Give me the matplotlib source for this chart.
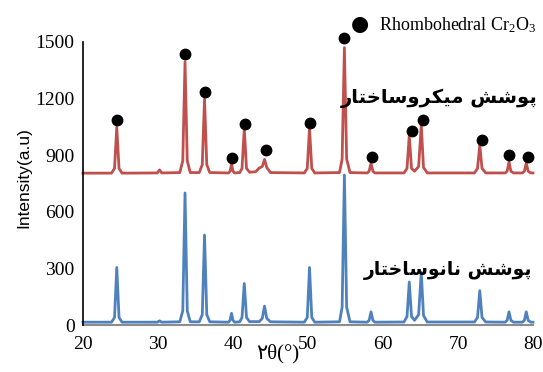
import matplotlib
matplotlib.use("Agg")
import matplotlib.pyplot as plt

plt.rcParams["font.family"] = ["Liberation Serif", "DejaVu Sans"]
plt.rcParams["mathtext.default"] = "regular"

# ─── DATA ─────────────────────────────────────────────────────────────────────
# nanostructured coating (blue): baseline / foot / top / foot / baseline per peak
nano_2theta = [20.0,
               23.8, 24.2, 24.5, 24.8, 25.2,
               29.9, 30.2, 30.5,
               32.9, 33.3, 33.6, 33.9, 34.3,
               35.5, 35.9, 36.2, 36.5, 36.9,
               39.4, 39.6, 39.8, 40.0, 40.2,
               40.9, 41.2, 41.5, 41.8, 42.2,
               43.5, 43.9, 44.2, 44.5, 45.0,
               49.5, 49.9, 50.2, 50.5, 50.9,
               54.2, 54.55, 54.85, 55.15, 55.6,
               57.9, 58.15, 58.4, 58.65, 58.9,
               62.8, 63.2, 63.5, 63.8, 64.2, 64.75, 65.1, 65.4, 65.9,
               72.2, 72.6, 72.9, 73.2, 73.7,
               76.3, 76.55, 76.8, 77.05, 77.4,
               78.6, 78.85, 79.1, 79.35, 79.7,
               80.0]
nano_counts = [15,
               15, 40, 305, 40, 15,
               15, 22, 15,
               17, 75, 700, 75, 17,
               17, 55, 477, 55, 17,
               15, 25, 62, 25, 15,
               17, 40, 220, 40, 18,
               18, 35, 100, 35, 17,
               15, 40, 305, 40, 15,
               17, 95, 795, 95, 17,
               15, 25, 70, 25, 15,
               16, 45, 228, 45, 25, 55, 280, 50, 16,
               16, 40, 182, 40, 16,
               15, 25, 70, 25, 15,
               15, 25, 70, 25, 15,
               15]

# microstructured coating (red), offset by ~800
micro_2theta = [20.0,
                23.8, 24.2, 24.5, 24.8, 25.2,
                29.9, 30.2, 30.5,
                32.9, 33.3, 33.6, 33.9, 34.3,
                35.5, 35.9, 36.2, 36.5, 36.9,
                39.4, 39.6, 39.8, 40.0, 40.2,
                40.9, 41.2, 41.5, 41.8, 42.2,
                43.0, 43.5, 43.9, 44.2, 44.5, 45.0,
                49.5, 49.9, 50.2, 50.5, 50.9,
                54.2, 54.55, 54.85, 55.15, 55.6,
                57.9, 58.15, 58.4, 58.65, 58.9,
                62.8, 63.2, 63.5, 63.8, 64.2, 64.75, 65.1, 65.4, 65.9,
                72.2, 72.6, 72.9, 73.2, 73.7,
                76.3, 76.55, 76.8, 77.05, 77.4,
                78.6, 78.85, 79.1, 79.35, 79.7,
                80.0]
micro_counts = [805,
                805, 830, 1048, 830, 805,
                806, 822, 806,
                808, 870, 1395, 870, 808,
                808, 850, 1197, 850, 808,
                806, 815, 852, 815, 806,
                808, 830, 1040, 830, 810,
                812, 832, 840, 878, 835, 808,
                806, 830, 1045, 830, 806,
                808, 880, 1470, 880, 808,
                806, 815, 858, 815, 806,
                806, 830, 1005, 830, 815, 840, 1060, 835, 806,
                806, 830, 955, 830, 806,
                806, 815, 865, 815, 806,
                806, 815, 858, 815, 806,
                806]

# Cr2O3 reflection markers
dot_2theta = [24.5, 33.6, 36.2, 39.9, 41.6, 44.4, 50.25, 54.8, 58.55, 63.8, 65.3, 73.2, 76.85, 79.3]
dot_counts = [1086, 1435, 1235, 883, 1063, 927, 1072, 1522, 890, 1028, 1086, 980, 900, 892]

x_ticks = [20, 30, 40, 50, 60, 70, 80]
y_ticks = [0, 300, 600, 900, 1200, 1500]

RED = "#C0504D"
BLUE = "#4F81BD"


def shape_fa(glyphs):
    # glyphs are already in contextual forms; matplotlib draws left to right
    return "".join(reversed(glyphs))


# پوشش میکروساختار / پوشش نانوساختار in presentation forms
poosh = ["\uFB58", "\uFEEE", "\uFEB7", "\uFEB6"]
micro_word = ["\uFEE3", "\uFBFF", "\uFB91", "\uFEAE", "\uFEED", "\uFEB3", "\uFE8E",
              "\uFEA7", "\uFE98", "\uFE8E", "\uFEAD"]
nano_word = ["\uFEE7", "\uFE8E", "\uFEE7", "\uFEEE", "\uFEB3", "\uFE8E",
             "\uFEA7", "\uFE98", "\uFE8E", "\uFEAD"]
micro_label = shape_fa(poosh + [" "] + micro_word)
nano_label = shape_fa(poosh + [" "] + nano_word)

# ─── PLOT ─────────────────────────────────────────────────────────────────────
fig = plt.figure(figsize=(5.43, 3.72), dpi=100)
ax = fig.add_axes([0.1529, 0.1263, 0.8287, 0.7608])

ax.plot(micro_2theta, micro_counts, color=RED, lw=2, clip_on=False)
ax.plot(nano_2theta, nano_counts, color=BLUE, lw=2, clip_on=False)
ax.plot(dot_2theta, dot_counts, "o", color="black", ms=7.5, clip_on=False)

ax.set_xlim(20, 80)
ax.set_ylim(0, 1500)
ax.set_xticks(x_ticks)
ax.set_yticks(y_ticks)
ax.tick_params(length=0, labelsize=14, pad=8)
ax.tick_params(axis="y", pad=6)

for s in ["top", "right"]:
    ax.spines[s].set_visible(False)
ax.spines["left"].set_color("black")
ax.spines["left"].set_linewidth(1.2)
ax.spines["bottom"].set_color("#8c8c8c")
ax.spines["bottom"].set_linewidth(1.5)
ax.spines["bottom"].set_zorder(0)

fig.text(24 / 543, 1 - 178 / 372, "Intensity(a.u)", rotation=90, ha="center", va="center",
         fontsize=12.5, family=["Liberation Sans", "DejaVu Sans"])
fig.text(278 / 543, 1 - 354 / 372, "\u06F2\u03B8(\u00B0)", ha="center", va="center",
         fontsize=15, family=["Liberation Serif", "DejaVu Sans"])

# legend entry
fig.text(360 / 543, 1 - 24 / 372, "\u25CF", ha="center", va="center", fontsize=15,
         family="DejaVu Sans", color="black")
fig.text(379 / 543, 1 - 25 / 372, "Rhombohedral Cr$_2$O$_3$", ha="left", va="center",
         fontsize=13)

fig.text(538 / 543, 1 - 98 / 372, micro_label, ha="right", va="center", fontsize=14,
         fontweight="bold", family="DejaVu Sans")
fig.text(532 / 543, 1 - 270 / 372, nano_label, ha="right", va="center", fontsize=13.5,
         fontweight="bold", family="DejaVu Sans")

fig.savefig("out.png", dpi=100)
